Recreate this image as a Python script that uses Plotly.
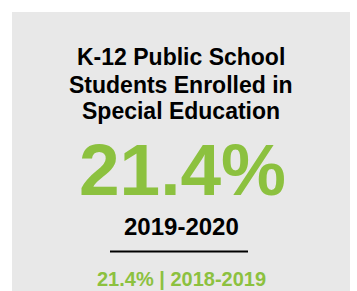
import plotly.graph_objects as go

# Data
title_lines = ["K-12 Public School", "Students Enrolled in", "Special Education"]
current_value = [21.4]
current_period = ["2019-2020"]
previous_value = [21.4]
previous_period = ["2018-2019"]

W, H = 357, 291
GREEN = "#8cc13f"
FONT = "Liberation Sans, Arial, sans-serif"

def py(px):
    return 1 - px / H

def px_x(px):
    return px / W

fig = go.Figure()

annotations = []
title_y = [57.5, 84.5, 111.5]
for line, yy in zip(title_lines, title_y):
    annotations.append(dict(
        text=f"<b>{line}</b>", x=px_x(181), y=py(yy), xref="paper", yref="paper",
        xanchor="center", yanchor="middle", showarrow=False,
        font=dict(family=FONT, size=23, color="#000000")))

annotations.append(dict(
    text=f"<b>{current_value[0]:.1f}%</b>", x=px_x(182), y=py(169), xref="paper", yref="paper",
    xanchor="center", yanchor="middle", showarrow=False,
    font=dict(family=FONT, size=73, color=GREEN)))

annotations.append(dict(
    text=f"<b>{current_period[0]}</b>", x=px_x(181), y=py(226), xref="paper", yref="paper",
    xanchor="center", yanchor="middle", showarrow=False,
    font=dict(family=FONT, size=24, color="#000000")))

annotations.append(dict(
    text=f"<b>{previous_value[0]:.1f}% | {previous_period[0]}</b>", x=px_x(181), y=py(278.5),
    xref="paper", yref="paper",
    xanchor="center", yanchor="middle", showarrow=False,
    font=dict(family=FONT, size=20, color=GREEN)))

shapes = [
    dict(type="rect", xref="paper", yref="paper", x0=px_x(12), x1=px_x(350), y0=py(H + 5), y1=py(12),
         fillcolor="#e8e8e8", line=dict(width=0), layer="below"),
    dict(type="line", xref="paper", yref="paper", x0=px_x(110), x1=px_x(248), y0=py(251.5), y1=py(251.5),
         line=dict(color="#000000", width=2)),
]

fig.update_layout(
    width=W, height=H, margin=dict(l=0, r=0, t=0, b=0),
    paper_bgcolor="#ffffff", plot_bgcolor="#ffffff",
    xaxis=dict(visible=False, range=[0, 1]), yaxis=dict(visible=False, range=[0, 1]),
    annotations=annotations, shapes=shapes, showlegend=False,
)

fig.write_html("out.html", config={"displayModeBar": False},
               post_script="document.body.style.margin='0';document.body.style.overflow='hidden';")
